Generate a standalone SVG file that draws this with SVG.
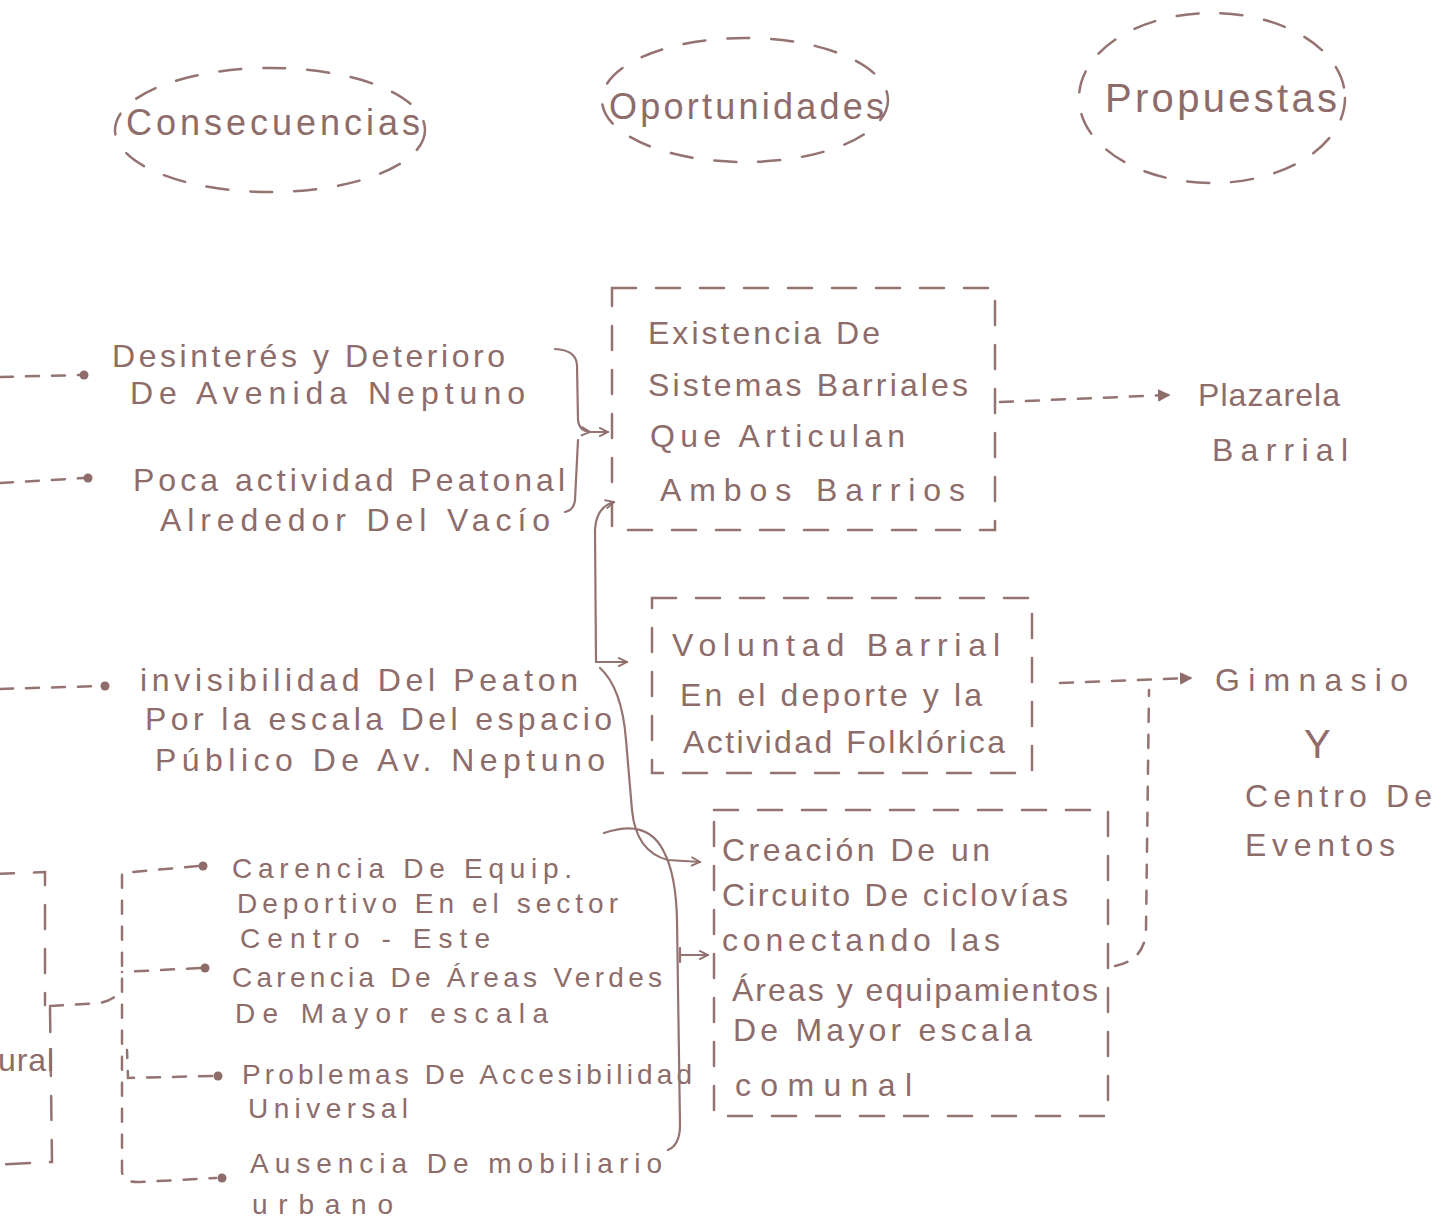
<svg xmlns="http://www.w3.org/2000/svg" width="1445" height="1222" viewBox="0 0 1445 1222">
<style>
text{font-family:"Liberation Sans","DejaVu Sans",sans-serif;font-size:32px;fill:#8d6c6a}
.h{font-size:36px}
.s{font-size:28px}
.box{fill:none;stroke:#957371;stroke-width:2.5;stroke-dasharray:24 20;stroke-linecap:round}
.ell{fill:none;stroke:#957371;stroke-width:2.5;stroke-dasharray:22 22;stroke-linecap:round}
.dl{fill:none;stroke:#957371;stroke-width:2.5;stroke-dasharray:13 13;stroke-linecap:round}
.sl{fill:none;stroke:#957371;stroke-width:2.2;stroke-linecap:round}
.dot{fill:#8d6c6a}
</style>
<defs>
<marker id="tri" viewBox="0 0 10 10" refX="8" refY="5" markerWidth="5" markerHeight="5" orient="auto" markerUnits="strokeWidth">
<path d="M0,0 L10,5 L0,10 z" fill="#8d6c6a"/>
</marker>
<marker id="open" viewBox="0 0 10 10" refX="9" refY="5" markerWidth="5" markerHeight="5" orient="auto" markerUnits="strokeWidth">
<path d="M1,1 L9,5 L1,9" fill="none" stroke="#8d6c6a" stroke-width="1.6"/>
</marker>
</defs>
<rect width="1445" height="1222" fill="#ffffff"/>

<g id="header-consecuencias">
<ellipse class="ell" cx="270" cy="130" rx="155" ry="62"/>
<text class="h" x="126" y="135" textLength="294" lengthAdjust="spacing">Consecuencias</text>
</g>
<g id="header-oportunidades">
<ellipse class="ell" cx="745" cy="100" rx="143" ry="62"/>
<text class="h" x="609" y="119" textLength="275" lengthAdjust="spacing">Oportunidades</text>
</g>
<g id="header-propuestas">
<ellipse class="ell" cx="1212" cy="98" rx="133" ry="85"/>
<text class="h" x="1105" y="112" textLength="232" lengthAdjust="spacing" style="font-size:40px">Propuestas</text>
</g>

<g id="c-desinteres">
<text x="112" y="367" textLength="393" lengthAdjust="spacing">Desinterés y Deterioro</text>
<text x="130" y="404" textLength="395" lengthAdjust="spacing">De Avenida Neptuno</text>
</g>
<g id="c-poca">
<text x="133" y="491" textLength="432" lengthAdjust="spacing">Poca actividad Peatonal</text>
<text x="160" y="531" textLength="390" lengthAdjust="spacing">Alrededor Del Vacío</text>
</g>
<g id="c-invisibilidad">
<text x="140" y="691" textLength="438" lengthAdjust="spacing">invisibilidad Del Peaton</text>
<text x="145" y="730" textLength="467" lengthAdjust="spacing">Por la escala Del espacio</text>
<text x="155" y="771" textLength="450" lengthAdjust="spacing">Público De Av. Neptuno</text>
</g>
<g id="c-estructural">
<path class="box" d="M-10,874 L45,872 L45,1005 M50,1008 L52,1162 L-10,1165"/>
<text x="-2" y="1071" textLength="56" lengthAdjust="spacing">ural</text>
</g>
<g id="c-equip">
<text class="s" x="232" y="878" textLength="340" lengthAdjust="spacing">Carencia De Equip.</text>
<text class="s" x="237" y="913" textLength="381" lengthAdjust="spacing">Deportivo En el sector</text>
<text class="s" x="240" y="948" textLength="250" lengthAdjust="spacing">Centro - Este</text>
</g>
<g id="c-areas">
<text class="s" x="232" y="987" textLength="430" lengthAdjust="spacing">Carencia De Áreas Verdes</text>
<text class="s" x="235" y="1023" textLength="313" lengthAdjust="spacing">De Mayor escala</text>
</g>
<g id="c-accesibilidad">
<text class="s" x="242" y="1084" textLength="450" lengthAdjust="spacing">Problemas De Accesibilidad</text>
<text class="s" x="248" y="1118" textLength="160" lengthAdjust="spacing">Universal</text>
</g>
<g id="c-mobiliario">
<text class="s" x="250" y="1173" textLength="412" lengthAdjust="spacing">Ausencia De mobiliario</text>
<text class="s" x="252" y="1214" textLength="141" lengthAdjust="spacing">urbano</text>
</g>

<g id="o-sistemas">
<rect class="box" x="612" y="288" width="383" height="242"/>
<text x="648" y="344" textLength="232" lengthAdjust="spacing">Existencia De</text>
<text x="648" y="396" textLength="320" lengthAdjust="spacing">Sistemas Barriales</text>
<text x="650" y="447" textLength="255" lengthAdjust="spacing">Que Articulan</text>
<text x="660" y="501" textLength="305" lengthAdjust="spacing">Ambos Barrios</text>
</g>
<g id="o-voluntad">
<rect class="box" x="652" y="598" width="380" height="175"/>
<text x="672" y="656" textLength="328" lengthAdjust="spacing">Voluntad Barrial</text>
<text x="680" y="706" textLength="302" lengthAdjust="spacing">En el deporte y la</text>
<text x="683" y="753" textLength="322" lengthAdjust="spacing">Actividad Folklórica</text>
</g>
<g id="o-circuito">
<rect class="box" x="714" y="810" width="394" height="306"/>
<text x="722" y="861" textLength="268" lengthAdjust="spacing">Creación De un</text>
<text x="722" y="906" textLength="346" lengthAdjust="spacing">Circuito De ciclovías</text>
<text x="722" y="951" textLength="278" lengthAdjust="spacing">conectando las</text>
<text x="732" y="1001" textLength="366" lengthAdjust="spacing">Áreas y equipamientos</text>
<text x="733" y="1041" textLength="299" lengthAdjust="spacing">De Mayor escala</text>
<text x="735" y="1096" textLength="177" lengthAdjust="spacing">comunal</text>
</g>

<g id="p-plazarela">
<text x="1198" y="406" textLength="142" lengthAdjust="spacing">Plazarela</text>
<text x="1212" y="461" textLength="136" lengthAdjust="spacing">Barrial</text>
</g>
<g id="p-gimnasio">
<text x="1215" y="691" textLength="193" lengthAdjust="spacing">Gimnasio</text>
<text x="1304" y="758" style="font-size:40px">Y</text>
<text x="1245" y="807" textLength="187" lengthAdjust="spacing">Centro De</text>
<text x="1245" y="856" textLength="150" lengthAdjust="spacing">Eventos</text>
</g>

<g id="connectors">
<path class="dl" d="M0,377 L80,375"/><circle class="dot" cx="84" cy="375" r="4.5"/>
<path class="dl" d="M0,483 L84,478"/><circle class="dot" cx="88" cy="478" r="4.5"/>
<path class="dl" d="M0,689 L100,686"/><circle class="dot" cx="105" cy="686" r="4.5"/>

<path class="sl" d="M555,349 Q576,350 577,365 L578,420 Q579,431 590,432" marker-end="url(#open)"/>
<path class="sl" d="M590,432 L608,432" marker-end="url(#open)"/>
<path class="sl" d="M578,440 L575,500 Q574,510 565,512"/>

<path class="sl" d="M596,662 L595,530 Q596,507 614,502" marker-end="url(#open)"/>
<path class="sl" d="M596,662 L627,662" marker-end="url(#open)"/>
<path class="sl" d="M600,668 Q622,688 626,740 L632,810 Q636,852 668,860 L700,862" marker-end="url(#open)"/>
<path class="sl" d="M604,833 Q648,818 664,852 Q676,875 677,920 L680,1125 Q680,1145 668,1150"/>
<path class="sl" d="M680,948 L680,962 M680,955 L708,955" marker-end="url(#open)"/>

<path class="dl" d="M1000,402 L1168,395" marker-end="url(#tri)"/>
<path class="dl" d="M1060,683 L1190,678" marker-end="url(#tri)"/>
<path class="dl" d="M1115,966 Q1145,960 1146,930 L1149,690"/>

<path class="dl" d="M198,866 L122,873 L122,1172 Q123,1183 140,1182 L216,1178"/>
<circle class="dot" cx="203" cy="866" r="4.5"/>
<circle class="dot" cx="222" cy="1178" r="4.5"/>
<path class="dl" d="M200,968 L122,972"/><circle class="dot" cx="205" cy="968" r="4.5"/>
<path class="dl" d="M212,1076 L128,1078 L127,1050"/><circle class="dot" cx="218" cy="1076" r="4.5"/>
<path class="dl" d="M50,1006 L100,1003 Q114,1000 122,990"/>
</g>
</svg>
